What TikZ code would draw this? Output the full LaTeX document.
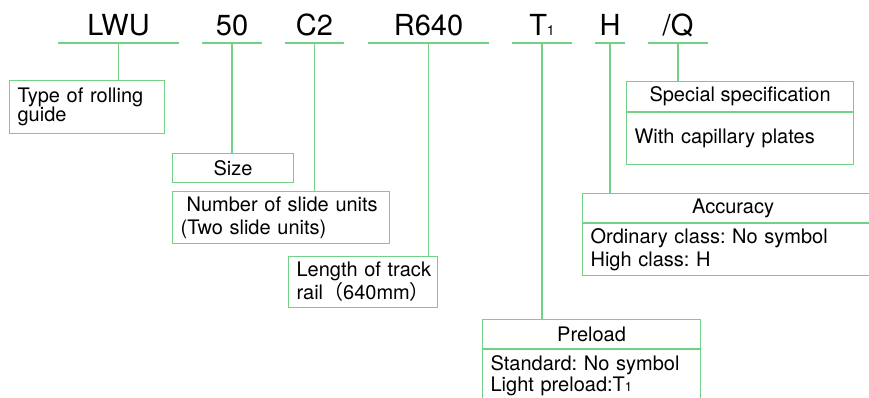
\documentclass[tikz,border=0pt]{standalone}
\usepackage{fontspec}
\setmainfont{TeX Gyre Heros}
\newfontfamily\cjkfont{Noto Sans CJK JP}
\usetikzlibrary{positioning}
\definecolor{guidegreen}{HTML}{74CF88}
\frenchspacing

\begin{document}
\begin{tikzpicture}[
  x=1pt, y=-1pt,
  font=\fontsize{20}{23}\selectfont,
  codelabel/.style={
    inner sep=0pt,
    text height=21pt,
    text depth=7pt,
    anchor=south,
    font=\fontsize{29}{30}\selectfont
  },
  infobox/.style={
    draw=guidegreen,
    line width=1.2pt,
    rectangle,
    inner xsep=8pt,
    inner ysep=0pt,
    anchor=north west,
    align=left
  },
  headbox/.style={
    infobox,
    align=center,
    minimum height=29pt
  },
  leader/.style={guidegreen, line width=1.2pt}
]
  \useasboundingbox (0,0) rectangle (869,398);
  \clip (0,0) rectangle (869,398);

  % --- Model code, one part per underline ---
  \node[codelabel, minimum width=121pt] (lwu)     at (118.5,43) {LWU};
  \node[codelabel, minimum width=60pt]  (size)    at (232,43)   {50};
  \node[codelabel, minimum width=59pt]  (units)   at (314.5,43) {C2};
  \node[codelabel, minimum width=121pt] (rail)    at (428.5,43) {R640};
  \node[codelabel, minimum width=60pt]  (preload) at (542,43)   {T{\fontsize{14}{14}\selectfont 1}};
  \node[codelabel, minimum width=30pt]  (acc)     at (610,43)   {H};
  \node[codelabel, minimum width=60pt]  (spec)    at (678,43)   {/Q};

  \foreach \n in {lwu, size, units, rail, preload, acc, spec}
    \draw[leader] (\n.south west) -- (\n.south east);

  % --- Plain boxes ---
  \node[infobox, text width=139pt, minimum height=53pt,
        font=\fontsize{20}{19}\selectfont] (typebox) at (9,80)
       {Type of rolling\\guide};
  \node[infobox, align=center, minimum width=121pt, minimum height=29pt] (sizebox) at (172,153) {Size};
  \node[infobox, text width=201pt, minimum height=52pt] (unitsbox) at (172,191)
       {\hspace*{6pt}Number of slide units\\(Two slide units)};
  \node[infobox, text width=133pt, minimum height=51pt] (railbox) at (288,256)
       {\mbox{Length of track}\\rail{\cjkfont （}640mm{\cjkfont ）}};

  % --- Boxes with a title row ---
  \node[headbox, minimum width=227pt, minimum height=30pt] (spechead) at (626,81) {Special specification};
  \node[infobox, text width=211pt, minimum height=52pt] (specbody) at (spechead.south west)
       {With capillary plates};

  \node[headbox, minimum width=301pt] (acchead) at (582,193) {Accuracy};
  \node[infobox, text width=285pt, minimum height=52pt] (accbody) at (acchead.south west)
       {Ordinary class: No symbol\\High class: H};

  \node[headbox, minimum width=218pt] (preloadhead) at (482,319) {Preload};
  \node[infobox, text width=202pt, minimum height=52pt,
        font=\fontsize{20}{21}\selectfont] (preloadbody) at (preloadhead.south west)
       {Standard: No symbol\\Light preload:T{\fontsize{13}{13}\selectfont 1}};

  % Leaders from each code part down to its box
  \foreach \a/\b in {lwu/typebox, size/sizebox, units/unitsbox, rail/railbox,
                     preload/preloadhead, acc/acchead, spec/spechead}
    \draw[leader] (\a.south) -- (\a.south |- \b.north);

\end{tikzpicture}
\end{document}
